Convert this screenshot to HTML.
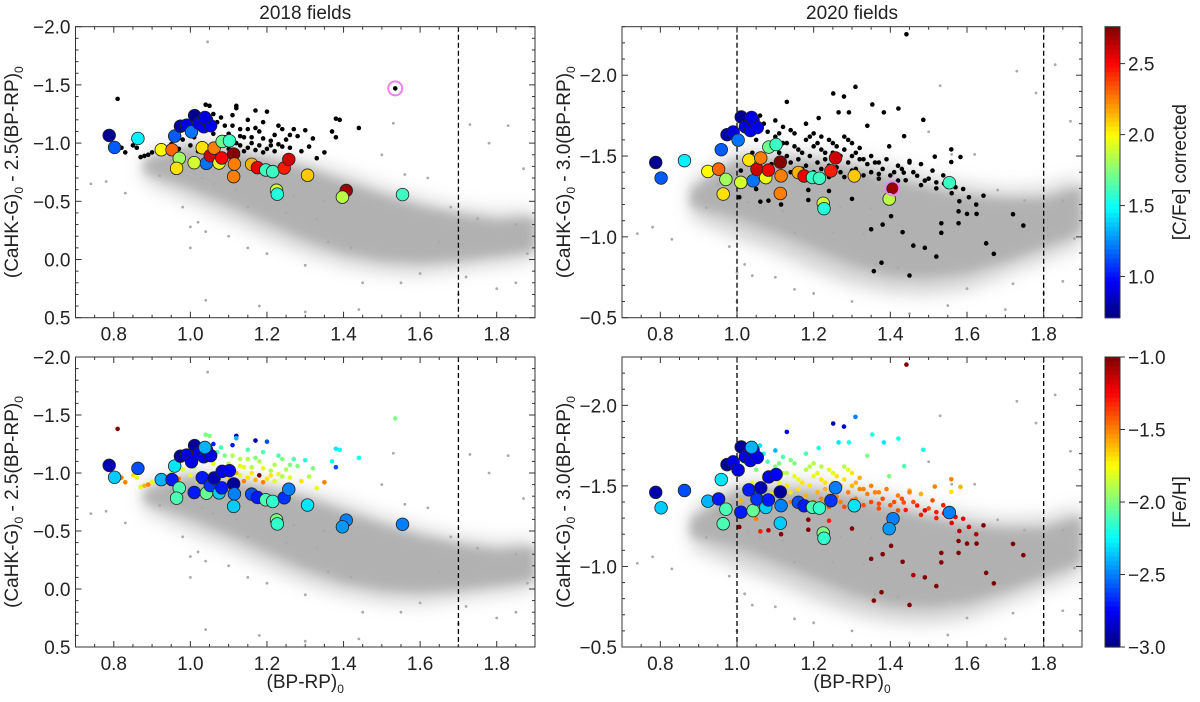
<!DOCTYPE html>
<html><head><meta charset="utf-8"><style>
html,body{margin:0;padding:0;background:#fff;}
svg text{font-family:"Liberation Sans",sans-serif;fill:#222;}
</style></head><body>
<svg id="fig" width="1200" height="697" viewBox="0 0 1200 697" xmlns="http://www.w3.org/2000/svg">
<defs><filter id="blur" x="-20%" y="-20%" width="140%" height="140%"><feGaussianBlur stdDeviation="5"/></filter>
<filter id="blur2" x="-20%" y="-20%" width="140%" height="140%"><feGaussianBlur stdDeviation="9"/></filter></defs>
</svg>
<script>
// ---- data (x = (BP-RP)0, y = (CaHK-G)0 - 2.5(BP-RP)0 ) ----
const bandX   = [0.88,1.0,1.1,1.2,1.3,1.4,1.5,1.6,1.7,1.8,1.9];
const bandTop = [-0.85,-0.97,-0.92,-0.86,-0.78,-0.66,-0.55,-0.45,-0.38,-0.33,-0.36];
const bandBot = [-0.75,-0.62,-0.48,-0.33,-0.18,-0.06,0.0,0.02,0.0,-0.04,-0.08];
const outerTop = [-0.9,-1.02,-0.98,-0.92,-0.84,-0.74,-0.62,-0.52,-0.44,-0.4,-0.42];
const outerBot = [-0.68,-0.5,-0.36,-0.2,-0.06,0.04,0.1,0.12,0.08,0.04,0.0];
const grayOut = [[1.045,-1.87],[0.74,-0.65],[0.78,-0.67],[0.83,-0.57],[0.92,-0.72],[1.02,-0.32],[1.04,-0.24],[1.10,-0.20],[1.0,-0.28],[1.15,-0.1],[1.2,-0.05],[1.3,0.05],[1.45,0.2],[1.55,0.2],[1.6,0.12],[1.73,-1.16],[1.78,-1.0],[1.83,-1.15],[1.87,-0.78],[1.72,0.15],[1.85,0.2],[1.88,-0.05],[1.53,-1.17],[1.56,-0.73],[1.27,-0.55],[1.33,-0.35],[1.04,0.35],[1.18,0.4],[1.3,0.45],[1.44,0.43],[1.7,0.3],[1.8,0.25],[0.95,-0.85],[0.98,-0.45],[1.36,-0.15],[1.42,-0.1],[1.62,-0.7],[1.68,-0.45],[1.75,-0.35],[1.5,-0.9],[1.0,-0.1],[1.12,-0.6],[1.06,-0.65],[1.03,-0.7],[1.25,-0.4],[1.35,-0.5],[1.15,-0.45],[1.65,-0.15],[1.85,-0.3],[1.9,-0.2]];
// large circles: [x, y25, CFe, FeH]
const bigStars = [[0.788,-1.066,0.75,-2.9],[0.802,-0.963,1.15,-2.35],[0.863,-1.04,1.45,-2.6],[0.924,-0.943,2.0,-2.4],[0.952,-0.943,2.3,-2.7],[0.959,-1.06,1.15,-2.3],[0.971,-0.87,1.8,-2.1],[0.964,-0.783,2.05,-2.1],[0.974,-1.145,0.8,-2.95],[0.99,-1.154,0.9,-2.8],[1.003,-1.097,1.2,-2.8],[1.011,-1.236,0.75,-2.95],[1.022,-1.17,0.9,-2.8],[1.035,-1.14,0.95,-2.75],[1.042,-1.2,0.85,-2.85],[1.053,-1.15,0.95,-2.8],[1.038,-1.22,0.9,-2.4],[1.01,-0.832,1.9,-2.7],[1.031,-0.96,2.05,-2.7],[1.042,-0.826,1.2,-2.05],[1.052,-0.892,2.6,-2.65],[1.062,-0.957,2.25,-2.9],[1.075,-0.829,1.95,-2.35],[1.082,-0.872,2.5,-2.7],[1.083,-1.014,1.7,-2.8],[1.102,-1.02,1.6,-2.75],[1.113,-0.906,2.75,-2.95],[1.115,-0.82,2.25,-2.5],[1.113,-0.712,2.25,-2.35],[1.16,-0.818,2.15,-2.6],[1.175,-0.789,2.55,-2.7],[1.197,-0.769,1.6,-2.1],[1.215,-0.755,1.6,-2.15],[1.245,-0.786,2.45,-2.65],[1.257,-0.86,2.6,-2.5],[1.225,-0.595,1.9,-2.0],[1.227,-0.561,1.55,-2.15],[1.306,-0.724,2.1,-2.3],[1.407,-0.593,2.7,-2.5],[1.397,-0.536,1.85,-2.45],[1.554,-0.558,1.6,-2.5]];
// 2018 small stars: [x, y25, FeH]
const small18 = [[0.81,-1.38,-1.0],[0.82,-0.96,-1.5],[0.83,-0.92,-1.5],[0.85,-0.98,-1.7],[0.86,-0.96,-1.8],[0.87,-0.88,-1.8],[0.88,-0.89,-1.6],[0.89,-0.90,-1.5],[0.90,-0.92,-1.8],[0.95,-0.99,-1.9],[0.97,-0.95,-1.5],[0.98,-1.03,-1.8],[1.00,-0.98,-1.8],[1.01,-1.05,-1.9],[1.02,-0.93,-1.8],[1.04,-1.33,-2.0],[1.05,-1.32,-2.0],[1.06,-1.25,-2.7],[1.07,-1.18,-2.1],[1.08,-1.22,-2.1],[1.09,-1.15,-2.0],[1.10,-1.08,-1.9],[1.11,-1.24,-2.7],[1.12,-1.32,-2.9],[1.12,-1.30,-2.4],[1.13,-1.12,-1.9],[1.14,-1.05,-1.8],[1.15,-1.20,-2.1],[1.16,-1.00,-1.7],[1.17,-1.28,-2.9],[1.18,-1.10,-1.9],[1.19,-1.04,-1.8],[1.20,-1.27,-2.6],[1.21,-0.98,-1.7],[1.22,-1.07,-1.9],[1.23,-1.15,-2.1],[1.24,-1.12,-2.0],[1.25,-1.03,-1.9],[1.26,-0.96,-1.8],[1.28,-1.06,-2.0],[1.29,-0.93,-1.7],[1.30,-1.11,-2.2],[1.31,-0.97,-1.9],[1.32,-1.04,-2.0],[1.33,-0.87,-1.8],[1.35,-0.92,-1.5],[1.38,-1.21,-2.3],[1.39,-1.20,-2.25],[1.37,-1.10,-2.2],[1.38,-1.05,-2.6],[1.44,-1.13,-2.2],[1.535,-1.47,-2.0],[1.06,-1.08,-1.8],[1.07,-0.97,-1.6],[1.08,-1.05,-1.5],[1.10,-0.95,-1.7],[1.12,-1.00,-1.6],[1.13,-0.98,-1.8],[1.14,-0.93,-1.5],[1.15,-0.96,-1.7],[1.16,-1.05,-1.9],[1.17,-0.94,-1.6],[1.18,-0.98,-1.0],[1.19,-0.92,-1.5],[1.20,-0.95,-1.7],[1.21,-1.02,-1.9],[1.22,-0.93,-1.8],[1.24,-0.97,-1.9],[1.26,-1.07,-2.0],[1.27,-1.12,-2.1],[1.17,-1.13,-2.0],[1.15,-1.12,-1.9],[1.11,-1.15,-1.9],[1.09,-1.05,-1.8],[1.13,-1.06,-1.8],[1.19,-1.18,-2.1],[1.23,-0.99,-1.8],[1.05,-1.15,-2.4]];
// 2020 small stars: [x, y30, FeH]  (y30 = (CaHK-G)0 - 3.0(BP-RP)0)
const small20 = [[1.442,-2.253,-1.0],[1.309,-1.928,-2.5],[1.251,-1.887,-2.9],[1.279,-1.868,-2.8],[1.13,-1.835,-2.8],[1.353,-1.819,-2.2],[1.421,-1.794,-2.2],[1.265,-1.77,-2.3],[1.292,-1.77,-2.2],[1.383,-1.77,-2.3],[1.213,-1.735,-2.2],[1.486,-1.724,-2.2],[1.34,-1.687,-2.0],[1.436,-1.623,-2.1],[1.397,-1.56,-2.0],[1.559,-1.541,-1.5],[1.583,-1.494,-1.6],[1.516,-1.496,-1.5],[1.559,-1.463,-1.7],[1.48,-1.45,-1.6],[1.45,-1.47,-1.6],[1.435,-1.397,-1.4],[1.51,-1.41,-1.4],[1.538,-1.38,-1.3],[1.52,-1.337,-1.3],[1.57,-1.307,-1.2],[1.59,-1.296,-1.2],[1.605,-1.245,-1.15],[1.624,-1.2,-1.1],[1.643,-1.255,-1.0],[1.72,-1.14,-1.0],[1.747,-1.07,-1.0],[1.65,-0.96,-1.0],[1.67,-0.895,-1.0],[1.578,-1.084,-1.0],[1.533,-1.084,-1.0],[1.533,-1.025,-1.0],[1.52,-0.878,-1.0],[1.49,-0.932,-1.0],[1.46,-0.946,-1.1],[1.432,-1.029,-1.0],[1.402,-1.128,-1.0],[1.38,-1.076,-1.0],[1.35,-1.047,-1.0],[1.45,-0.761,-1.0],[1.357,-0.788,-1.0],[1.377,-0.84,-1.0],[1.3,-1.235,-1.0],[1.24,-1.284,-1.3],[1.186,-1.29,-1.0],[1.186,-1.228,-1.0],[1.082,-1.224,-1.1],[1.061,-1.218,-1.3],[1.115,-1.2,-1.0],[1.077,-1.403,-1.6],[1.01,-1.41,-1.6],[1.006,-1.245,-1.0],[1.05,-1.296,-1.5],[1.49,-1.348,-1.2],[1.47,-1.378,-1.3],[1.42,-1.348,-1.4],[1.37,-1.389,-1.4],[1.6,-1.142,-1.0],[1.625,-1.142,-1.0],[1.578,-1.158,-1.0],
[1.03,-1.66,-2.4],[1.04,-1.52,-1.8],[1.05,-1.60,-2.0],[1.06,-1.48,-1.7],[1.07,-1.70,-2.2],[1.08,-1.55,-1.9],[1.09,-1.45,-1.7],[1.10,-1.62,-2.0],[1.11,-1.52,-1.8],[1.12,-1.68,-2.1],[1.13,-1.58,-1.9],[1.14,-1.46,-1.7],[1.15,-1.64,-2.0],[1.16,-1.54,-1.8],[1.17,-1.42,-1.6],[1.18,-1.60,-1.9],[1.19,-1.50,-1.7],[1.20,-1.56,-1.8],[1.21,-1.46,-1.6],[1.22,-1.62,-1.9],[1.23,-1.52,-1.7],[1.24,-1.44,-1.6],[1.25,-1.58,-1.8],[1.26,-1.48,-1.6],[1.27,-1.40,-1.5],[1.28,-1.54,-1.7],[1.29,-1.46,-1.5],[1.30,-1.50,-1.6],[1.31,-1.42,-1.5],[1.32,-1.48,-1.5],[1.33,-1.38,-1.4],[1.34,-1.45,-1.5],[1.35,-1.40,-1.4],[1.36,-1.46,-1.5],[1.37,-1.36,-1.4],[1.38,-1.42,-1.4],[1.40,-1.38,-1.4],[1.42,-1.44,-1.5],[1.44,-1.35,-1.3],[1.46,-1.40,-1.4],[1.48,-1.32,-1.3],[1.50,-1.36,-1.4],[1.52,-1.30,-1.3],[1.54,-1.33,-1.3],[1.56,-1.27,-1.2],[1.58,-1.22,-1.1],
[1.06,-1.75,-2.3],[1.08,-1.65,-2.1],[1.10,-1.72,-2.4],[1.12,-1.58,-1.9],[1.14,-1.66,-2.0],[1.16,-1.48,-1.7],[1.18,-1.70,-2.1],[1.20,-1.64,-1.9],[1.22,-1.54,-1.7],[1.24,-1.60,-1.8],[1.26,-1.56,-1.7],[1.28,-1.62,-1.9],[1.30,-1.58,-1.7],[1.32,-1.55,-1.6],[1.12,-1.44,-1.6],[1.14,-1.40,-1.5],[1.18,-1.44,-1.6],[1.20,-1.40,-1.5],[1.22,-1.42,-1.5],[1.24,-1.37,-1.4],[1.26,-1.43,-1.5],[1.28,-1.37,-1.4],[1.30,-1.41,-1.4],[1.09,-1.58,-1.8],[1.11,-1.64,-2.0],[1.13,-1.50,-1.7],[1.15,-1.56,-1.8],[1.17,-1.52,-1.7],[1.19,-1.62,-1.9],[1.21,-1.58,-1.8],[1.23,-1.48,-1.6],[1.25,-1.52,-1.7],[1.27,-1.50,-1.6],[1.29,-1.60,-1.8],[1.31,-1.52,-1.6],[1.33,-1.48,-1.5],[1.35,-1.50,-1.5],[1.37,-1.46,-1.5],[1.39,-1.48,-1.5],[1.41,-1.40,-1.4],[1.43,-1.42,-1.4],[1.45,-1.46,-1.5]];
const ring18 = [1.535,-1.47];
const ring20 = [1.405,-1.30];
const xTicks = [0.8,1.0,1.2,1.4,1.6,1.8];
const yTicksL = [-2.0,-1.5,-1.0,-0.5,0.0,0.5];
const yTicksR = [-2.0,-1.5,-1.0,-0.5];
const cfeTicks = [1.0,1.5,2.0,2.5];
const fehTicks = [-3.0,-2.5,-2.0,-1.5,-1.0];

const NS='http://www.w3.org/2000/svg';
const svg=document.getElementById('fig');
function el(tag,attrs,parent){const e=document.createElementNS(NS,tag);for(const k in attrs)e.setAttribute(k,attrs[k]);(parent||svg).appendChild(e);return e;}
function jet(t){t=Math.max(0,Math.min(1,t));const c=v=>Math.round(255*Math.max(0,Math.min(1,1.5-Math.abs(v))));return `rgb(${c(4*t-3)},${c(4*t-2)},${c(4*t-1)})`;}
const cfeCol=v=>jet((v-0.71)/(2.76-0.71));
const fehCol=v=>jet((v+3)/2);
const fmt=v=>(v<0?'\u2212':'')+Math.abs(v).toFixed(1);

const panels=[
 {name:'panel-2018-cfe',x0:75.5,x1:535,y0:26.7,y1:317.7,yMin:-2.0,yMax:0.5,f:2.5,right:false,color:'cfe'},
 {name:'panel-2020-cfe',x0:622,x1:1082,y0:26.7,y1:317.7,yMin:-2.30,yMax:-0.5,f:3.0,right:true,color:'cfe'},
 {name:'panel-2018-feh',x0:75.5,x1:535,y0:357,y1:647,yMin:-2.0,yMax:0.5,f:2.5,right:false,color:'feh'},
 {name:'panel-2020-feh',x0:622,x1:1082,y0:357,y1:647,yMin:-2.30,yMax:-0.5,f:3.0,right:true,color:'feh'}];

panels.forEach((p,pi)=>{
 const sx=v=>p.x0+(v-0.7)/(1.2)*(p.x1-p.x0);
 const sy=v=>p.y0+(v-p.yMin)/(p.yMax-p.yMin)*(p.y1-p.y0);
 const conv=(x,y25)=>y25-(p.f-2.5)*x;
 const g=el('g',{'clip-path':`url(#clip${pi})`});
 
 
 const cp=el('clipPath',{id:'clip'+pi},svg.querySelector('defs'));
 el('rect',{x:p.x0,y:p.y0,width:p.x1-p.x0,height:p.y1-p.y0},cp);
 function bandPoly(top,bot,fill,filt,op){
  let pts=[];
  bandX.forEach((x,i)=>pts.push(sx(x)+','+sy(conv(x,top[i]))));
  for(let i=bandX.length-1;i>=0;i--)pts.push(sx(bandX[i])+','+sy(conv(bandX[i],bot[i])));
  const b=el('polygon',{points:pts.join(' '),fill:fill,filter:filt,opacity:op},g);
  
  
 }
 bandPoly(outerTop,outerBot,'#c4c4c4','url(#blur2)',0.8);
 bandPoly(bandTop,bandBot,'#b0b0b0','url(#blur)',0.95);
 grayOut.forEach(d=>{const c=el('circle',{cx:sx(d[0]),cy:sy(conv(d[0],d[1])),r:1.4,fill:'#aaa'},g);
  
  });
 const smalls = p.right ? small20 : small18;
 smalls.forEach(d=>{const y=p.right?d[1]:conv(d[0],d[1]);
  const c=el('circle',{cx:sx(d[0]),cy:sy(y),r:2.3,fill:p.color==='cfe'?'#000':fehCol(d[2])},g);
  
  });
 (p.right?[1.0,1.8]:[1.7]).forEach(v=>{const l=el('line',{x1:sx(v),x2:sx(v),y1:p.y0,y2:p.y1,stroke:'#000','stroke-width':1.3,'stroke-dasharray':'5,3'},g);
  
  });
 bigStars.forEach(d=>{const c=el('circle',{cx:sx(d[0]),cy:sy(conv(d[0],d[1])),r:6.3,fill:p.color==='cfe'?cfeCol(d[2]):fehCol(d[3]),stroke:'#222','stroke-width':0.8},g);
  
  });
 if(p.color==='cfe'){const r=p.right?ring20:ring18;
  const c=el('circle',{cx:sx(r[0]),cy:sy(r[1]),r:7,fill:'none',stroke:'#ee82ee','stroke-width':2},g);
  
  }
 const fr=el('rect',{x:p.x0,y:p.y0,width:p.x1-p.x0,height:p.y1-p.y0,fill:'none',stroke:'#333','stroke-width':1});
 
 
 for(let k=15;k<38;k++){const v=k*0.05;const X=sx(v);const major=xTicks.some(t=>Math.abs(t-v)<1e-6);const L=major?6:3;
  el('line',{x1:X,x2:X,y1:p.y1,y2:p.y1-L,stroke:'#333'});el('line',{x1:X,x2:X,y1:p.y0,y2:p.y0+L,stroke:'#333'});}
 xTicks.forEach(v=>{const t=el('text',{x:sx(v),y:p.y1+23,'text-anchor':'middle','font-size':19});t.textContent=v.toFixed(1);
  
  });
 const yT=p.right?yTicksR:yTicksL;
 for(let k=Math.ceil(p.yMin*10);k<=Math.floor(p.yMax*10);k++){const v=k/10;const Y=sy(v);const major=Math.abs(v*2-Math.round(v*2))<1e-6;const L=major?6:3;
  el('line',{x1:p.x0,x2:p.x0+L,y1:Y,y2:Y,stroke:'#333'});el('line',{x1:p.x1,x2:p.x1-L,y1:Y,y2:Y,stroke:'#333'});}
 yT.forEach(v=>{const t=el('text',{x:p.x0-5,y:sy(v)+7,'text-anchor':'end','font-size':19});t.textContent=fmt(v);
  
  });
 const cy=(p.y0+p.y1)/2, lx=p.right?570:18;
 const yl=el('text',{x:lx,y:cy,'text-anchor':'middle','font-size':19,transform:`rotate(-90 ${lx} ${cy})`});
 yl.innerHTML=`(CaHK-G)<tspan font-size="12" dy="5">0</tspan><tspan dy="-5"> - ${p.f.toFixed(1)}(BP-RP)</tspan><tspan font-size="12" dy="5">0</tspan>`;
 
 
 if(pi>=2){const xl=el('text',{x:(p.x0+p.x1)/2,y:688,'text-anchor':'middle','font-size':19});
  xl.innerHTML='(BP-RP)<tspan font-size="12" dy="5">0</tspan>';
  
  }
 if(pi<2){const tt=el('text',{x:(p.x0+p.x1)/2,y:19,'text-anchor':'middle','font-size':19});tt.textContent=p.right?'2020 fields':'2018 fields';
  
  }
});

function colorbar(y0,y1,vmin,vmax,ticks,cmap,label,name){
 const g=el('g',{});
 
 
 const X0=1105,W=15;
 const n=64;for(let i=0;i<n;i++){const v=vmax-(i+0.5)/n*(vmax-vmin);el('rect',{x:X0,y:y0+i*(y1-y0)/n,width:W,height:(y1-y0)/n+0.6,fill:cmap(v)},g);}
 el('rect',{x:X0,y:y0,width:W,height:y1-y0,fill:'none',stroke:'#333'},g);
 const sy=v=>y0+(vmax-v)/(vmax-vmin)*(y1-y0);
 ticks.forEach(v=>{const Y=sy(v);el('line',{x1:X0+W,x2:X0+W+5,y1:Y,y2:Y,stroke:'#333'},g);
  const t=el('text',{x:X0+W+8,y:Y+7,'font-size':19},g);t.textContent=fmt(v);
  
  });
 const cy=(y0+y1)/2;const t=el('text',{x:1186,y:cy,'text-anchor':'middle','font-size':19,transform:`rotate(-90 1186 ${cy})`},g);t.textContent=label;
 
 
}
colorbar(26.7,317.7,0.71,2.76,cfeTicks,cfeCol,'[C/Fe] corrected','cfe-colorbar');
colorbar(357,647,-3.0,-1.0,fehTicks,fehCol,'[Fe/H]','feh-colorbar');
</script>
</body></html>
